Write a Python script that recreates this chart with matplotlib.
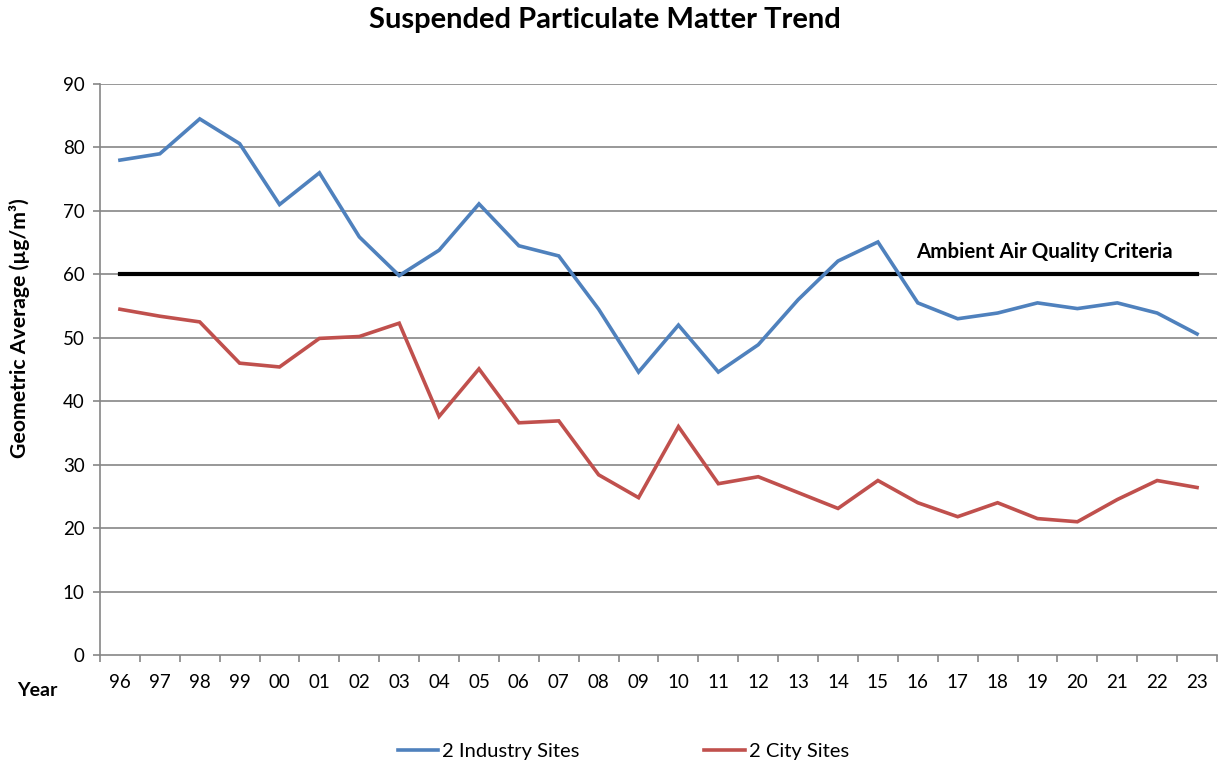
import numpy as np
import matplotlib
matplotlib.use("Agg")
import matplotlib.pyplot as plt
from matplotlib.ticker import FixedLocator

plt.rcParams['font.family'] = ['Lato', 'DejaVu Sans']

years = ['96', '97', '98', '99', '00', '01', '02', '03', '04', '05', '06', '07', '08', '09',
         '10', '11', '12', '13', '14', '15', '16', '17', '18', '19', '20', '21', '22', '23']
industry = [78.0, 79.0, 84.5, 80.6, 71.0, 76.0, 65.9, 59.8, 63.8, 71.1, 64.5, 62.9, 54.5, 44.6,
            52.0, 44.6, 48.9, 56.0, 62.1, 65.1, 55.5, 53.0, 53.9, 55.5, 54.6, 55.5, 53.9, 50.6]
city = [54.5, 53.4, 52.5, 46.0, 45.4, 49.9, 50.2, 52.3, 37.6, 45.1, 36.6, 36.9, 28.4, 24.8,
        36.0, 27.0, 28.1, 25.6, 23.1, 27.5, 24.0, 21.8, 24.0, 21.5, 21.0, 24.5, 27.5, 26.4]
criteria = 60

x = np.arange(len(years))
grid_col = '#868686'

fig = plt.figure(figsize=(12.22, 7.62), dpi=100)
ax = fig.add_axes([100/1222, 1 - 655/762, 1117/1222, 571/762])

# grid + criteria line
for v in range(10, 91, 10):
    ax.axhline(v, color=grid_col, lw=1.2, zorder=1)
ax.plot([x[0], x[-1]], [criteria, criteria], color='black', lw=3.0, zorder=3)

ax.plot(x, industry, color='#4F81BD', lw=2.6, label='2 Industry Sites', zorder=4,
        solid_joinstyle='miter')
ax.plot(x, city, color='#C0504D', lw=2.6, label='2 City Sites', zorder=4,
        solid_joinstyle='miter')

ax.set_xlim(-0.5, len(years) - 0.5)
ax.set_ylim(0, 90)
ax.set_yticks(range(0, 91, 10))
ax.set_xticks(x)
ax.set_xticklabels(years)
ax.xaxis.set_minor_locator(FixedLocator(np.arange(-0.5, len(years), 1)))
ax.tick_params(axis='x', which='major', length=0, pad=14, labelsize=13.5)
ax.tick_params(axis='x', which='minor', length=5, color=grid_col, width=1.2)
ax.tick_params(axis='y', length=5, color=grid_col, width=1.2, labelsize=13.5, pad=6)

for s in ['top', 'right']:
    ax.spines[s].set_visible(False)
for s in ['left', 'bottom']:
    ax.spines[s].set_color(grid_col)
    ax.spines[s].set_linewidth(1.2)

ax.text(x[-1] - 0.6, criteria + 2.0, 'Ambient Air Quality Criteria', ha='right', va='bottom',
        fontsize=14.8, fontweight='bold')

fig.text(0.495, 1 - 20/762, 'Suspended Particulate Matter Trend', ha='center', va='center',
         fontsize=21, fontweight='bold')
fig.text(20/1222, 1 - 328/762, 'Geometric Average (µg/m³)', rotation=90, ha='center',
         va='center', fontsize=15.3, fontweight='bold')
fig.text(17/1222, 1 - 691/762, 'Year', ha='left', va='center', fontsize=14, fontweight='bold')

fig.legend(loc='center', bbox_to_anchor=(0.510, 1 - 751/762), ncol=2, frameon=False,
           fontsize=14.5, handlelength=2.0, handletextpad=0.2, columnspacing=6.2)

fig.savefig('out.png', dpi=100, facecolor='white')
